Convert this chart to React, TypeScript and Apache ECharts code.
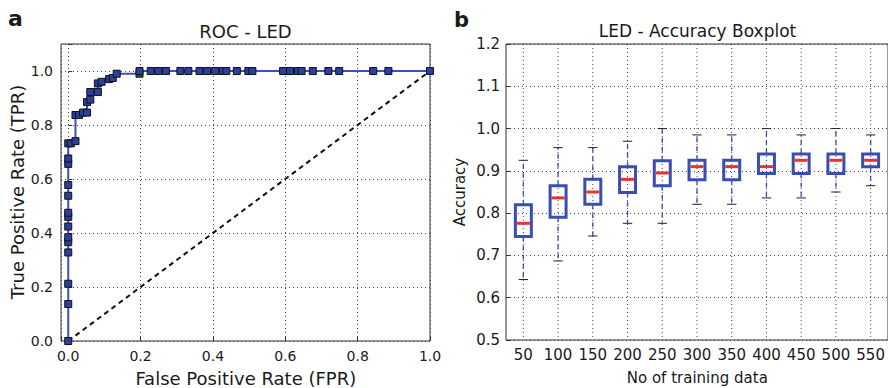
import React, { useEffect, useRef } from "react";
import * as echarts from "echarts";

// ---------- ROC data (panel a) ----------
const rocFpr = [
  0, 0, 0, 0, 0, 0, 0, 0, 0, 0, 0, 0, 0, 0,
  0.007, 0.02, 0.02, 0.03, 0.041, 0.052, 0.052, 0.061, 0.061, 0.082, 0.082,
  0.092, 0.113, 0.123, 0.134, 0.197, 0.197,
  0.228, 0.249, 0.27, 0.31, 0.332, 0.363, 0.384, 0.406, 0.427, 0.437, 0.466,
  0.498, 0.509, 0.594, 0.613, 0.635, 0.645, 0.676, 0.719, 0.749, 0.843, 0.885, 1.0,
];
const rocTpr = [
  0, 0.137, 0.212, 0.328, 0.366, 0.384, 0.424, 0.46, 0.475, 0.538, 0.578, 0.656, 0.676, 0.732,
  0.732, 0.74, 0.837, 0.837, 0.846, 0.846, 0.885, 0.894, 0.922, 0.922, 0.954,
  0.96, 0.97, 0.974, 0.99, 0.99, 1.0,
  1.0, 1.0, 1.0, 1.0, 1.0, 1.0, 1.0, 1.0, 1.0, 1.0, 1.0,
  1.0, 1.0, 1.0, 1.0, 1.0, 1.0, 1.0, 1.0, 1.0, 1.0, 1.0, 1.0,
];
const diagX = [0, 1];
const diagY = [0, 1];
const rocTicks = [0, 0.2, 0.4, 0.6, 0.8, 1.0];

// ---------- Boxplot data (panel b) ----------
const trainSizes = ["50", "100", "150", "200", "250", "300", "350", "400", "450", "500", "550"];
const boxMin = [0.643, 0.687, 0.746, 0.776, 0.776, 0.821, 0.821, 0.836, 0.836, 0.85, 0.865];
const boxQ1 = [0.745, 0.79, 0.821, 0.849, 0.865, 0.879, 0.879, 0.894, 0.894, 0.894, 0.91];
const boxMed = [0.776, 0.836, 0.85, 0.88, 0.895, 0.91, 0.91, 0.91, 0.925, 0.925, 0.925];
const boxQ3 = [0.82, 0.865, 0.88, 0.91, 0.924, 0.925, 0.925, 0.94, 0.94, 0.94, 0.94];
const boxMax = [0.925, 0.955, 0.955, 0.97, 1.0, 0.985, 0.985, 1.0, 0.985, 1.0, 0.985];
const accMin = 0.5;
const accMax = 1.2;

const FONT = "DejaVu Sans";
const TXT = "#1a1a1a";

function txt(text: string, x: number, y: number, size: number, opts: any = {}) {
  return {
    type: "text",
    x,
    y,
    rotation: opts.rotation || 0,
    silent: true,
    style: {
      text,
      font: `${opts.bold ? "bold " : ""}${size}px '${FONT}'`,
      fill: TXT,
      textAlign: opts.align || "center",
      textVerticalAlign: "middle",
      align: opts.align || "center",
      verticalAlign: "middle",
    },
  };
}

export default function App() {
  const ref = useRef<HTMLDivElement>(null);

  useEffect(() => {
    if (!ref.current) return;
    const chart = echarts.init(ref.current, undefined, { renderer: "svg" });

    const rocData = rocFpr.map((x, i) => [x, rocTpr[i]]);
    const diagData = diagX.map((x, i) => [x, diagY[i]]);
    const boxData = trainSizes.map((_, i) => [i, boxMin[i], boxQ1[i], boxMed[i], boxQ3[i], boxMax[i]]);

    const gridLine = { show: true, lineStyle: { color: "#444", type: [1, 3], width: 1 } };
    const tickIn = { show: true, inside: true, length: 4, lineStyle: { color: "#333" } };

    const option: any = {
      animation: false,
      backgroundColor: "#fff",
      grid: [
        { left: 61, top: 44, width: 369, height: 297, show: true, borderColor: "#333", borderWidth: 1, backgroundColor: "transparent" },
        { left: 506, top: 44, width: 383, height: 296, show: true, borderColor: "#333", borderWidth: 1, backgroundColor: "transparent" },
      ],
      xAxis: [
        {
          type: "value",
          gridIndex: 0,
          min: -0.02,
          max: 1.0,
          splitNumber: 5,
          axisLine: { show: false },
          axisTick: tickIn,
          splitLine: gridLine,
          axisLabel: {
            color: TXT,
            fontFamily: FONT,
            fontSize: 14,
            margin: 8,
            formatter: (v: number) => (rocTicks.some((t) => Math.abs(t - v) < 1e-6) ? v.toFixed(1) : ""),
          },
        },
        {
          type: "category",
          gridIndex: 1,
          data: trainSizes,
          boundaryGap: true,
          axisLine: { show: false },
          axisTick: { show: false },
          splitLine: { show: false },
          axisLabel: { color: TXT, fontFamily: FONT, fontSize: 15, margin: 7, interval: 0 },
        },
      ],
      yAxis: [
        {
          type: "value",
          gridIndex: 0,
          min: 0,
          max: 1.1,
          splitNumber: 5,
          axisLine: { show: false },
          axisTick: tickIn,
          splitLine: gridLine,
          axisLabel: {
            color: TXT,
            fontFamily: FONT,
            fontSize: 14,
            margin: 8,
            formatter: (v: number) => (rocTicks.some((t) => Math.abs(t - v) < 1e-6) ? v.toFixed(1) : ""),
          },
        },
        {
          type: "value",
          gridIndex: 1,
          min: accMin,
          max: accMax,
          interval: 0.1,
          axisLine: { show: false },
          axisTick: tickIn,
          splitLine: gridLine,
          axisLabel: {
            color: TXT,
            fontFamily: FONT,
            fontSize: 15,
            margin: 6,
            formatter: (v: number) => v.toFixed(1),
          },
        },
      ],
      series: [
        {
          type: "line",
          xAxisIndex: 0,
          yAxisIndex: 0,
          data: diagData,
          symbol: "none",
          lineStyle: { color: "#111", width: 2, type: [5, 4] },
          z: 2,
        },
        {
          type: "line",
          xAxisIndex: 0,
          yAxisIndex: 0,
          data: rocData,
          symbol: "rect",
          symbolSize: 7,
          itemStyle: { color: "#2b3f9c", borderColor: "#111", borderWidth: 1 },
          lineStyle: { color: "#3d53b3", width: 2 },
          z: 3,
        },
        {
          type: "custom",
          xAxisIndex: 1,
          yAxisIndex: 1,
          data: boxData,
          encode: { x: 0, y: [1, 2, 3, 4, 5] },
          z: 3,
          renderItem: (params: any, api: any) => {
            const idx = api.value(0);
            const lo = api.coord([idx, api.value(1)]);
            const q1 = api.coord([idx, api.value(2)]);
            const md = api.coord([idx, api.value(3)]);
            const q3 = api.coord([idx, api.value(4)]);
            const hi = api.coord([idx, api.value(5)]);
            const top = api.coord([idx, accMax]);
            const bot = api.coord([idx, accMin]);
            const band = api.size([1, 0])[0];
            const bw = band * 0.46;
            const cw = band * 0.27;
            const x = lo[0];
            const blue = "#3a4db0";
            return {
              type: "group",
              children: [
                {
                  type: "line",
                  shape: { x1: x, y1: top[1], x2: x, y2: bot[1] },
                  style: { stroke: "#444", lineWidth: 1, lineDash: [1, 3] },
                },
                {
                  type: "line",
                  shape: { x1: x, y1: q3[1], x2: x, y2: hi[1] },
                  style: { stroke: blue, lineWidth: 1.3, lineDash: [5, 4] },
                },
                {
                  type: "line",
                  shape: { x1: x, y1: q1[1], x2: x, y2: lo[1] },
                  style: { stroke: blue, lineWidth: 1.3, lineDash: [5, 4] },
                },
                {
                  type: "line",
                  shape: { x1: x - cw / 2, y1: hi[1], x2: x + cw / 2, y2: hi[1] },
                  style: { stroke: "#222", lineWidth: 1 },
                },
                {
                  type: "line",
                  shape: { x1: x - cw / 2, y1: lo[1], x2: x + cw / 2, y2: lo[1] },
                  style: { stroke: "#222", lineWidth: 1 },
                },
                {
                  type: "rect",
                  shape: { x: x - bw / 2, y: q3[1], width: bw, height: q1[1] - q3[1] },
                  style: { fill: "none", stroke: blue, lineWidth: 3 },
                },
                {
                  type: "line",
                  shape: { x1: x - bw / 2 + 1.5, y1: md[1], x2: x + bw / 2 - 1.5, y2: md[1] },
                  style: { stroke: "#e8322a", lineWidth: 3 },
                },
              ],
            };
          },
        },
      ],
      graphic: [
        txt("a", 8, 18.5, 22, { bold: true, align: "left" }),
        txt("b", 454, 19.5, 21, { bold: true, align: "left" }),
        txt("ROC - LED", 245.5, 31, 18),
        txt("LED - Accuracy Boxplot", 697.5, 31, 17),
        txt("False Positive Rate (FPR)", 245.8, 378, 18),
        txt("No of training data", 697.3, 378, 15),
        txt("True Positive Rate (TPR)", 17, 192, 18, { rotation: Math.PI / 2 }),
        txt("Accuracy", 460, 192, 15, { rotation: Math.PI / 2 }),
      ],
    };

    chart.setOption(option);
    return () => chart.dispose();
  }, []);

  return (
    <div
      ref={ref}
      style={{ position: "absolute", left: 0, top: 0, width: 888, height: 388, background: "#fff" }}
    />
  );
}
